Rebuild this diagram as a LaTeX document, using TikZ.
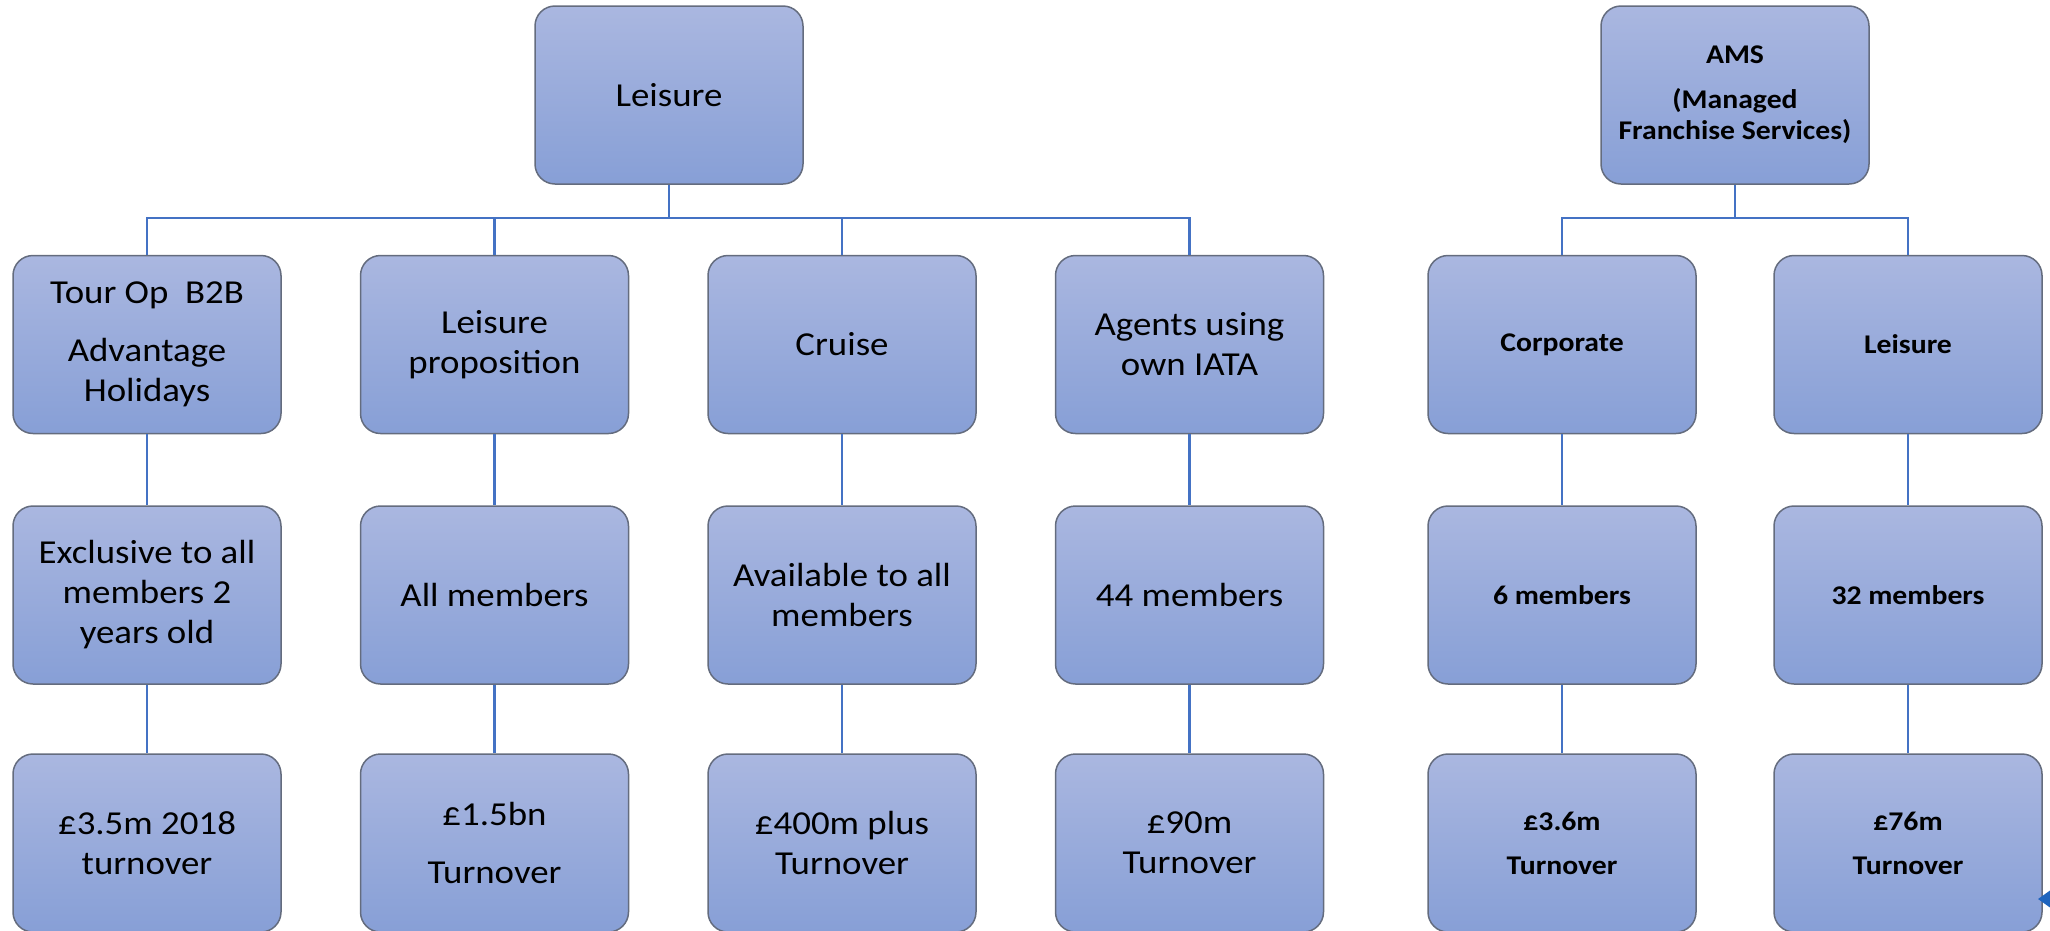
\documentclass[tikz,border=0pt]{standalone}
\usepackage{fontspec}
\setmainfont{Carlito}[FakeStretch=1.1]
\definecolor{boxtop}{RGB}{170,183,224}
\definecolor{boxbot}{RGB}{135,159,214}
\definecolor{boxline}{RGB}{100,108,126}
\definecolor{linkblue}{RGB}{68,114,196}
\definecolor{markblue}{RGB}{30,100,190}
\newcommand{\plainsize}{\fontsize{33.5}{40}\selectfont}
\newcommand{\boldsize}{\fontsize{27}{31}\selectfont\bfseries}
\tikzset{
  unit/.style={rectangle, rounded corners=20pt, draw=boxline, line width=1.5pt,
    top color=boxtop, bottom color=boxbot,
    minimum width=268pt, minimum height=178pt, inner sep=0pt, align=center},
  plainunit/.style={unit, font=\plainsize},
  boldunit/.style={unit, font=\boldsize},
  link/.style={draw=linkblue, line width=2.5pt}
}
\begin{document}
\begin{tikzpicture}[x=1pt, y=-1pt]
\useasboundingbox (0,0) rectangle (2050,930);
\clip (0,0) rectangle (2050,930);

% Leisure branch
\node[plainunit] (lhead) at (669,95) {Leisure};
\node[plainunit] (t1) at (147,344.5) {Tour Op\ \ B2B\\[18pt]Advantage\\Holidays};
\node[plainunit] (t2) at (494.5,344.5) {Leisure\\proposition};
\node[plainunit] (t3) at (842,344.5) {Cruise};
\node[plainunit] (t4) at (1189.5,344.5) {Agents using\\own IATA};
\node[plainunit] (m1) at (147,595) {Exclusive to all\\members 2\\years old};
\node[plainunit] (m2) at (494.5,595) {All members};
\node[plainunit] (m3) at (842,595) {Available to all\\members};
\node[plainunit] (m4) at (1189.5,595) {44 members};
\node[plainunit] (b1) at (147,843) {£3.5m 2018\\turnover};
\node[plainunit] (b2) at (494.5,843) {£1.5bn\\[18pt]Turnover};
\node[plainunit] (b3) at (842,843) {£400m plus\\Turnover};
\node[plainunit] (b4) at (1189.5,843) {£90m\\Turnover};

% AMS branch
\node[boldunit] (ahead) at (1735,95) {AMS\\[14pt](Managed\\Franchise Services)};
\node[boldunit] (c1) at (1562,344.5) {Corporate};
\node[boldunit] (c2) at (1908,344.5) {Leisure};
\node[boldunit] (n1) at (1562,595) {6 members};
\node[boldunit] (n2) at (1908,595) {32 members};
\node[boldunit] (f1) at (1562,843) {£3.6m\\[13pt]Turnover};
\node[boldunit] (f2) at (1908,843) {£76m\\[13pt]Turnover};

% bus junctions
\coordinate (lbus) at (669,218);
\coordinate (abus) at (1735,218);

% connectors
\draw[link] (lhead.south) -- (lbus);
\foreach \n in {t1,t2,t3,t4} \draw[link] (\n.north) |- (lbus);
\draw[link] (ahead.south) -- (abus);
\foreach \n in {c1,c2} \draw[link] (\n.north) |- (abus);
\draw[link] (t1.south) -- (m1.north);
\draw[link] (t2.south) -- (m2.north);
\draw[link] (t3.south) -- (m3.north);
\draw[link] (t4.south) -- (m4.north);
\draw[link] (m1.south) -- (b1.north);
\draw[link] (m2.south) -- (b2.north);
\draw[link] (m3.south) -- (b3.north);
\draw[link] (m4.south) -- (b4.north);
\draw[link] (c1.south) -- (n1.north);
\draw[link] (c2.south) -- (n2.north);
\draw[link] (n1.south) -- (f1.north);
\draw[link] (n2.south) -- (f2.north);

% small pointer at the right edge
\fill[markblue] (2038,899) -- (2062,882) -- (2062,916) -- cycle;
\end{tikzpicture}
\end{document}
